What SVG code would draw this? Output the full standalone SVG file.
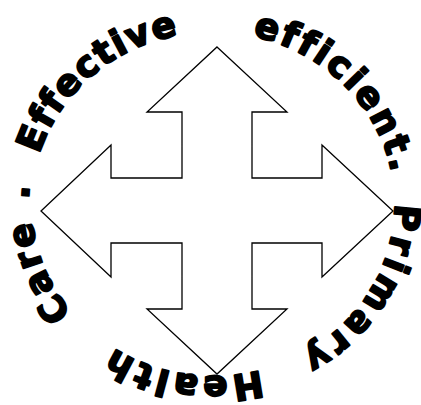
<svg xmlns="http://www.w3.org/2000/svg" xmlns:xlink="http://www.w3.org/1999/xlink" width="421" height="405" viewBox="0 0 421 405">
<style>
.arrow{fill:#fff;stroke:#000;stroke-width:1.3;stroke-linejoin:miter}
.w{fill:#000;stroke:#000;stroke-width:2;stroke-linejoin:round;font-family:'DejaVu Sans',sans-serif;font-weight:700;font-size:36px;text-anchor:middle;font-variant-ligatures:none;font-kerning:none}
</style>
<defs>
<path id="ring" d="M213,32 A181.5,172 0 1 1 213,376 A181.5,172 0 1 1 213,32"/>
</defs>
<rect width="421" height="405" fill="#fff"/>
<g id="cross-arrow">
<polygon class="arrow" points="217,47 287,112 252,112 252,178 322,178 322,145 393,211 322,277 322,243 252,243 252,309 287,309 217,374 147,309 182,309 182,243 111,243 111,277 41,211 111,145 111,178 182,178 182,112 147,112"/>
</g>
<g id="connectors"></g>
<g id="label-efficient"><text class="w" letter-spacing="2.6"><textPath xlink:href="#ring" href="#ring" startOffset="144">efficient.</textPath></text></g>
<g id="label-primary"><text class="w" letter-spacing="4.3"><textPath xlink:href="#ring" href="#ring" startOffset="372">Primary</textPath></text></g>
<g id="label-health"><text class="w" letter-spacing="3.7"><textPath xlink:href="#ring" href="#ring" startOffset="585">Health</textPath></text></g>
<g id="label-care"><text class="w" letter-spacing="2.7"><textPath xlink:href="#ring" href="#ring" startOffset="766">Care</textPath></text></g>
<g id="label-dot"><text class="w" dy="-3"><textPath xlink:href="#ring" href="#ring" startOffset="844">.</textPath></text></g>
<g id="label-effective"><text class="w" letter-spacing="1.6"><textPath xlink:href="#ring" href="#ring" startOffset="980">Effective</textPath></text></g>
</svg>
